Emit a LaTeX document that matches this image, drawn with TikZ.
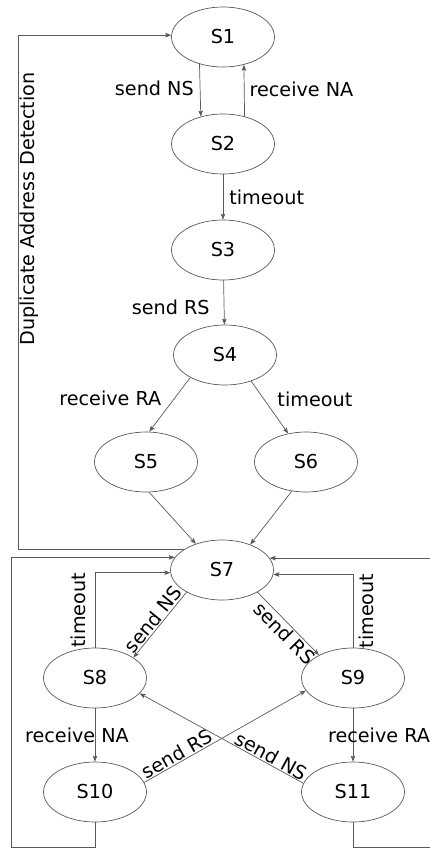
\documentclass[tikz,border=0pt]{standalone}
\usepackage{fontspec}
\setmainfont{DejaVu Sans}
\usetikzlibrary{shapes.geometric,arrows.meta}
\definecolor{lc}{gray}{0.35}
\begin{document}
\begin{tikzpicture}[x=1pt,y=-1pt,
  st/.style={ellipse,draw=lc,line width=0.7pt,minimum width=103pt,minimum height=60pt,inner sep=0pt,font=\fontsize{19.2}{23}\selectfont},
  ar/.style={draw=lc,line width=0.7pt,-{Stealth[length=6pt,width=4.5pt,inset=1.2pt]}},
  lbl/.style={font=\fontsize{19.2}{23}\selectfont,inner sep=2pt,text=black}]
\useasboundingbox (0,0) rectangle (430,848);
\clip (0,0) rectangle (430,848);
\node[st] (S1) at (223,37) {S1};
\node[st] (S2) at (223,144) {S2};
\node[st] (S3) at (223,250) {S3};
\node[st] (S4) at (225,355) {S4};
\node[st] (S5) at (146,462) {S5};
\node[st] (S6) at (306,462) {S6};
\node[st] (S7) at (222,570) {S7};
\node[st] (S8) at (95,678) {S8};
\node[st] (S9) at (353,678) {S9};
\node[st] (S10) at (95,792) {S10};
\node[st] (S11) at (353,792) {S11};
\coordinate (D) at (18.5,300);
\coordinate (BL) at (11,847);
\coordinate (BR) at (520,847);
% top chain
\draw[ar] (S1.229.8) -- node[lbl,left,inner sep=6pt,yshift=1.5pt]{send NS} (S2.129.8);
\draw[ar] (S2.52.5) -- node[lbl,right,inner sep=5pt,yshift=1.5pt]{receive NA} (S1.307.5);
\draw[ar] (S2) -- node[lbl,right,inner sep=6pt]{timeout} (S3);
\draw[ar] (S3) -- node[lbl,left,inner sep=14pt,yshift=-5pt]{send RS} (S4);
\draw[ar] (S4.213) -- node[lbl,pos=0.38,left=11pt]{receive RA} (S5.84);
\draw[ar] (S4.315) -- node[lbl,pos=0.35,right=11pt]{timeout} (S6.122);
\draw[ar] (S5.276) -- (S7.135);
\draw[ar] (S6.244) -- (S7.42);
% duplicate address detection
\draw[ar] (S7.152.5) -| (D) |- (S1.178);
\node[lbl,rotate=90] (DAD) at (29,209) {Duplicate Address Detection};
% lower part
\draw[ar] (S7.212) -- node[lbl,sloped,above,inner sep=1pt]{send NS} (S8.28);
\draw[ar] (S7.328) -- node[lbl,sloped,below,pos=0.55,inner sep=1.5pt]{send RS} (S9.146.7);
\draw[ar] (S8) -- node[lbl,xshift=-18pt]{receive NA} (S10);
\draw[ar] (S9) -- node[lbl,xshift=26pt]{receive RA} (S11);
\draw[ar] (S10.11) -- node[lbl,sloped,above,pos=0.23,inner sep=1pt]{send RS} (S9.195.5);
\draw[ar] (S11.170) -- node[lbl,sloped,above,pos=0.22,inner sep=1pt]{send NS} (S8.341.6);
\draw[ar] (S8.north) |- node[lbl,sloped,above,pos=0.25,inner sep=9pt]{timeout} (S7.183.4);
\draw[ar] (S9.north) |- node[lbl,sloped,below,pos=0.25,inner sep=6pt]{timeout} (S7.355.5);
\draw[ar] (S10.south) |- (BL) |- (S7.165.7);
\draw[ar] (S11.south) |- (BR) |- (S7.14.3);
\end{tikzpicture}
\end{document}
